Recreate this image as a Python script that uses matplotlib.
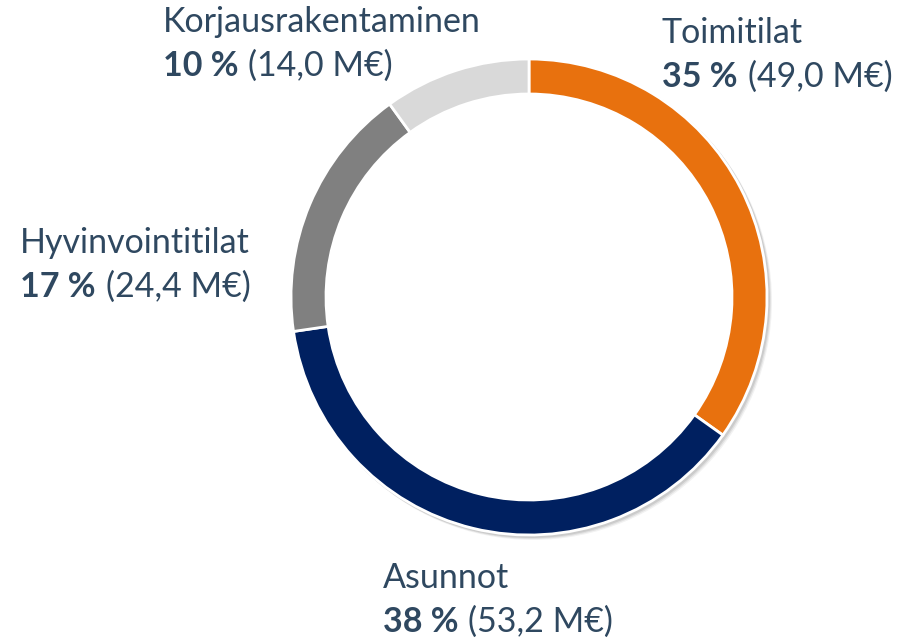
import numpy as np
import matplotlib.pyplot as plt
from matplotlib.patches import Circle

labels = ['Toimitilat', 'Asunnot', 'Hyvinvointitilat', 'Korjausrakentaminen']
values = [49.0, 53.2, 24.4, 14.0]
pct_text = ['35 %', '38 %', '17 %', '10 %']
val_text = ['(49,0 M€)', '(53,2 M€)', '(24,4 M€)', '(14,0 M€)']
colors = ['#E8710E', '#002060', '#808080', '#D9D9D9']
# label anchor (left x, first line centre y) in pixels from top-left
label_pos = [(662, 33), (383, 578), (20, 243), (163, 22)]

W, H = 908, 640
txt_color = '#2F4860'
plt.rcParams['font.family'] = ['Lato', 'DejaVu Sans']

fig = plt.figure(figsize=(W / 100, H / 100), dpi=100)
ax = fig.add_axes([0, 0, 1, 1])
ax.set_xlim(0, W)
ax.set_ylim(0, H)
ax.set_aspect('equal')
ax.axis('off')

cx, cy = 529, H - 297
R = 238
width = 35

# soft shadow, outside only
for k, a in zip([4, 3, 2], [0.05, 0.07, 0.09]):
    ax.pie([1], colors=['#000000'], radius=R + 1, center=(cx + k, cy - k),
           wedgeprops=dict(width=width + 20, alpha=a, linewidth=0), frame=True)
ax.add_patch(Circle((cx, cy), R - width, facecolor='white', edgecolor='none', zorder=1.5))

ax.pie(values, colors=colors, radius=R, center=(cx, cy), startangle=90,
       counterclock=False, frame=True,
       wedgeprops=dict(width=width, edgecolor='white', linewidth=2, zorder=2))
ax.set_xlim(0, W)
ax.set_ylim(0, H)
ax.axis('off')

fs = 24.5
line_gap = 44
fig.canvas.draw()
r = fig.canvas.get_renderer()
for i in range(len(labels)):
    x, y = label_pos[i]
    ax.text(x, H - y, labels[i], fontsize=fs, color=txt_color, va='center', ha='left')
    t = ax.text(x, H - y - line_gap, pct_text[i], fontsize=fs, color=txt_color,
                va='center', ha='left', fontweight='bold')
    bb = t.get_window_extent(renderer=r)
    ax.text(bb.x1 + 10, H - y - line_gap, val_text[i], fontsize=fs, color=txt_color,
            va='center', ha='left')

fig.savefig('out.png', dpi=100)
